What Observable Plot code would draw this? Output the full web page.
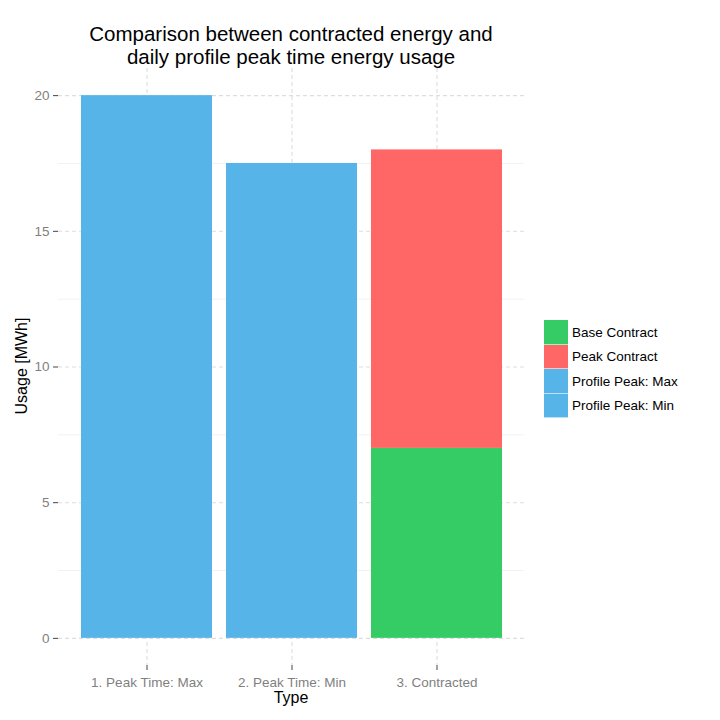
<!DOCTYPE html>
<html>
<head>
<meta charset="utf-8">
<script src="https://cdn.jsdelivr.net/npm/d3@7"></script>
<script src="https://cdn.jsdelivr.net/npm/@observablehq/plot@0.6"></script>
<style>
  html, body { margin: 0; padding: 0; background: #fff; }
  #wrap { position: relative; width: 720px; height: 720px; font-family: "Liberation Sans", Arial, sans-serif; }
  #wrap svg { position: absolute; left: 0; top: 0; }
  .title { position: absolute; left: 0; width: 582px; top: 22px; text-align: center; font-size: 20.5px; line-height: 23px; color: #000; }
  .ylab { position: absolute; left: 22px; top: 366px; transform: translate(-50%, -50%) rotate(-90deg); font-size: 16px; white-space: nowrap; }
  .xlab { position: absolute; left: 0; width: 582px; top: 689px; text-align: center; font-size: 16px; }
  .legend { position: absolute; left: 544px; top: 320px; }
  .legend .item { display: flex; align-items: center; height: 24.5px; }
  .legend .sw { width: 24px; height: 23.5px; border-bottom: 1px solid rgba(255,255,255,0.6); margin-right: 4px; }
  .legend .lab { font-size: 13.5px; color: #000; white-space: nowrap; }
</style>
</head>
<body>
<div id="wrap">
  <div class="title">Comparison between contracted energy and<br>daily profile peak time energy usage</div>
  <div class="ylab">Usage [MWh]</div>
  <div class="xlab">Type</div>
  <div class="legend" id="legend"></div>
</div>
<script>
const types = ["1. Peak Time: Max", "2. Peak Time: Min", "3. Contracted"];
const series = ["Base Contract", "Peak Contract", "Profile Peak: Max", "Profile Peak: Min"];
const seriesColors = ["#35CC66", "#FF6666", "#56B4E9", "#56B4E9"];
const barTypes = ["1. Peak Time: Max", "2. Peak Time: Min", "3. Contracted", "3. Contracted"];
const barSeries = ["Profile Peak: Max", "Profile Peak: Min", "Base Contract", "Peak Contract"];
const barValues = [20, 17.5, 7, 11];
const majorTicks = [0, 5, 10, 15, 20];
const minorTicks = [2.5, 7.5, 12.5, 17.5];

const rows = barValues.map((v, i) => ({type: barTypes[i], series: barSeries[i], value: v}));

const chart = Plot.plot({
  width: 720,
  height: 720,
  marginLeft: 58,
  marginRight: 196,
  marginTop: 68,
  marginBottom: 55,
  style: {fontFamily: "Liberation Sans, Arial, sans-serif", fontSize: "13.5px", background: "#fff"},
  x: {domain: types, paddingInner: 0.1, paddingOuter: 0.15, label: null},
  y: {domain: [-1, 21], label: null},
  color: {domain: series, range: seriesColors},
  marks: [
    Plot.ruleY(minorTicks, {stroke: "#f2f2f2", strokeWidth: 1}),
    Plot.ruleY(majorTicks, {stroke: "#dddddd", strokeWidth: 1.1, strokeDasharray: "4,3"}),
    Plot.ruleX(types, {x: d => d, stroke: "#dddddd", strokeWidth: 1.1, strokeDasharray: "4,3"}),
    Plot.barY(rows, {x: "type", y: "value", fill: "series"}),
    Plot.axisY(majorTicks, {tickSize: 5, tickPadding: 4, stroke: "#444", fill: "#7f7f7f", fontSize: 13.5, label: null}),
    Plot.axisX(types, {tickSize: 5, tickPadding: 7, stroke: "#444", fill: "#7f7f7f", fontSize: 13.5, label: null})
  ]
});
document.getElementById("wrap").prepend(chart);

const legend = document.getElementById("legend");
series.forEach((s, i) => {
  const item = document.createElement("div");
  item.className = "item";
  const sw = document.createElement("div");
  sw.className = "sw";
  sw.style.background = seriesColors[i];
  const lab = document.createElement("span");
  lab.className = "lab";
  lab.textContent = s;
  item.appendChild(sw);
  item.appendChild(lab);
  legend.appendChild(item);
});
</script>
</body>
</html>
